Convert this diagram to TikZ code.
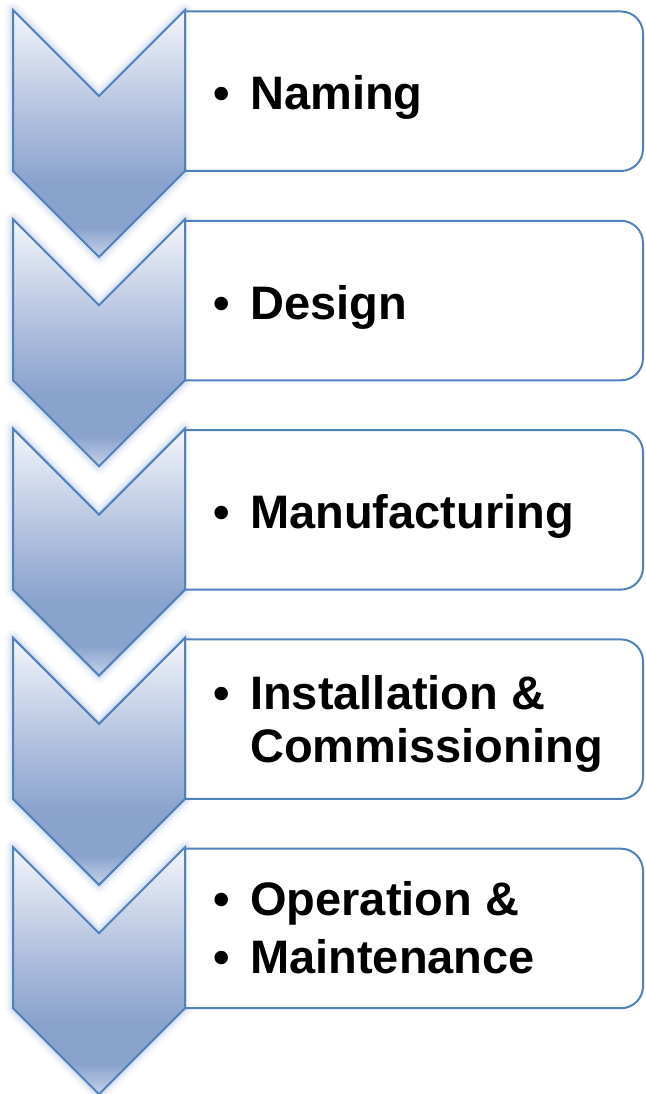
\documentclass[tikz,border=0pt]{standalone}
\usepackage{fontspec}
\setmainfont{Liberation Sans}

\definecolor{stepline}{HTML}{4F81BD}
\definecolor{stepglow}{HTML}{C4D2EC}
\definecolor{steptop}{HTML}{F3F5FA}
\definecolor{stepmid}{HTML}{AFBFDD}
\definecolor{steplow}{HTML}{8AA3CD}
\definecolor{steptip}{HTML}{C6D1E7}
\pgfdeclareverticalshading{stepshade}{100bp}{color(0bp)=(steptip); color(25bp)=(steptip); color(31bp)=(steplow); color(40bp)=(steplow); color(53bp)=(stepmid); color(75bp)=(steptop); color(100bp)=(steptop)}

\newcommand{\bul}[1]{\makebox[37pt][l]{•}#1}

\tikzset{
    chevron/.style={draw=stepline, line width=2pt, line join=miter, shading=stepshade},
    textbox/.style={draw=stepline, line width=2pt, fill=white},
    glow/.style={draw=stepglow, line join=round},
    steptext/.style={anchor=base west, inner sep=0pt, font=\bfseries\fontsize{47}{53}\selectfont}
}

\begin{document}
\begin{tikzpicture}[x=1pt, y=-1pt]
    \useasboundingbox (0,0) rectangle (645,1094);
    \foreach \i in {0,...,4}{
        \pgfmathsetmacro\t{10+209.3*\i}
        \foreach \w/\o in {16/0.15, 11/0.25, 6/0.4}
            \draw[glow, line width=\w pt, opacity=\o] (13,\t) -- (99,\t+86) -- (185,\t) -- (185,\t+161) -- (99,\t+247) -- (13,\t+161) -- cycle;
        \draw[textbox] (185,\t+1.5) -- (621,\t+1.5) arc[start angle=-90, end angle=0, radius=22] -- (643,\t+139) arc[start angle=0, end angle=90, radius=22] -- (185,\t+161) -- cycle;
        \draw[chevron] (13,\t) -- (99,\t+86) -- (185,\t) -- (185,\t+161) -- (99,\t+247) -- (13,\t+161) -- cycle;
    }
    \node[steptext] (naming) at (213,110) {\bul{Naming}};
    \node[steptext] (design) at (213,319.3) {\bul{Design}};
    \node[steptext] (manuf) at (213,528.6) {\bul{Manufacturing}};
    \node[steptext] (install) at (213,709) {\bul{Installation \&}};
    \node[steptext] (commiss) at (213,762) {\hspace*{37pt}Commissioning};
    \node[steptext] (operation) at (213,915) {\bul{Operation \&}};
    \node[steptext] (maint) at (213,973) {\bul{Maintenance}};
\end{tikzpicture}
\end{document}
